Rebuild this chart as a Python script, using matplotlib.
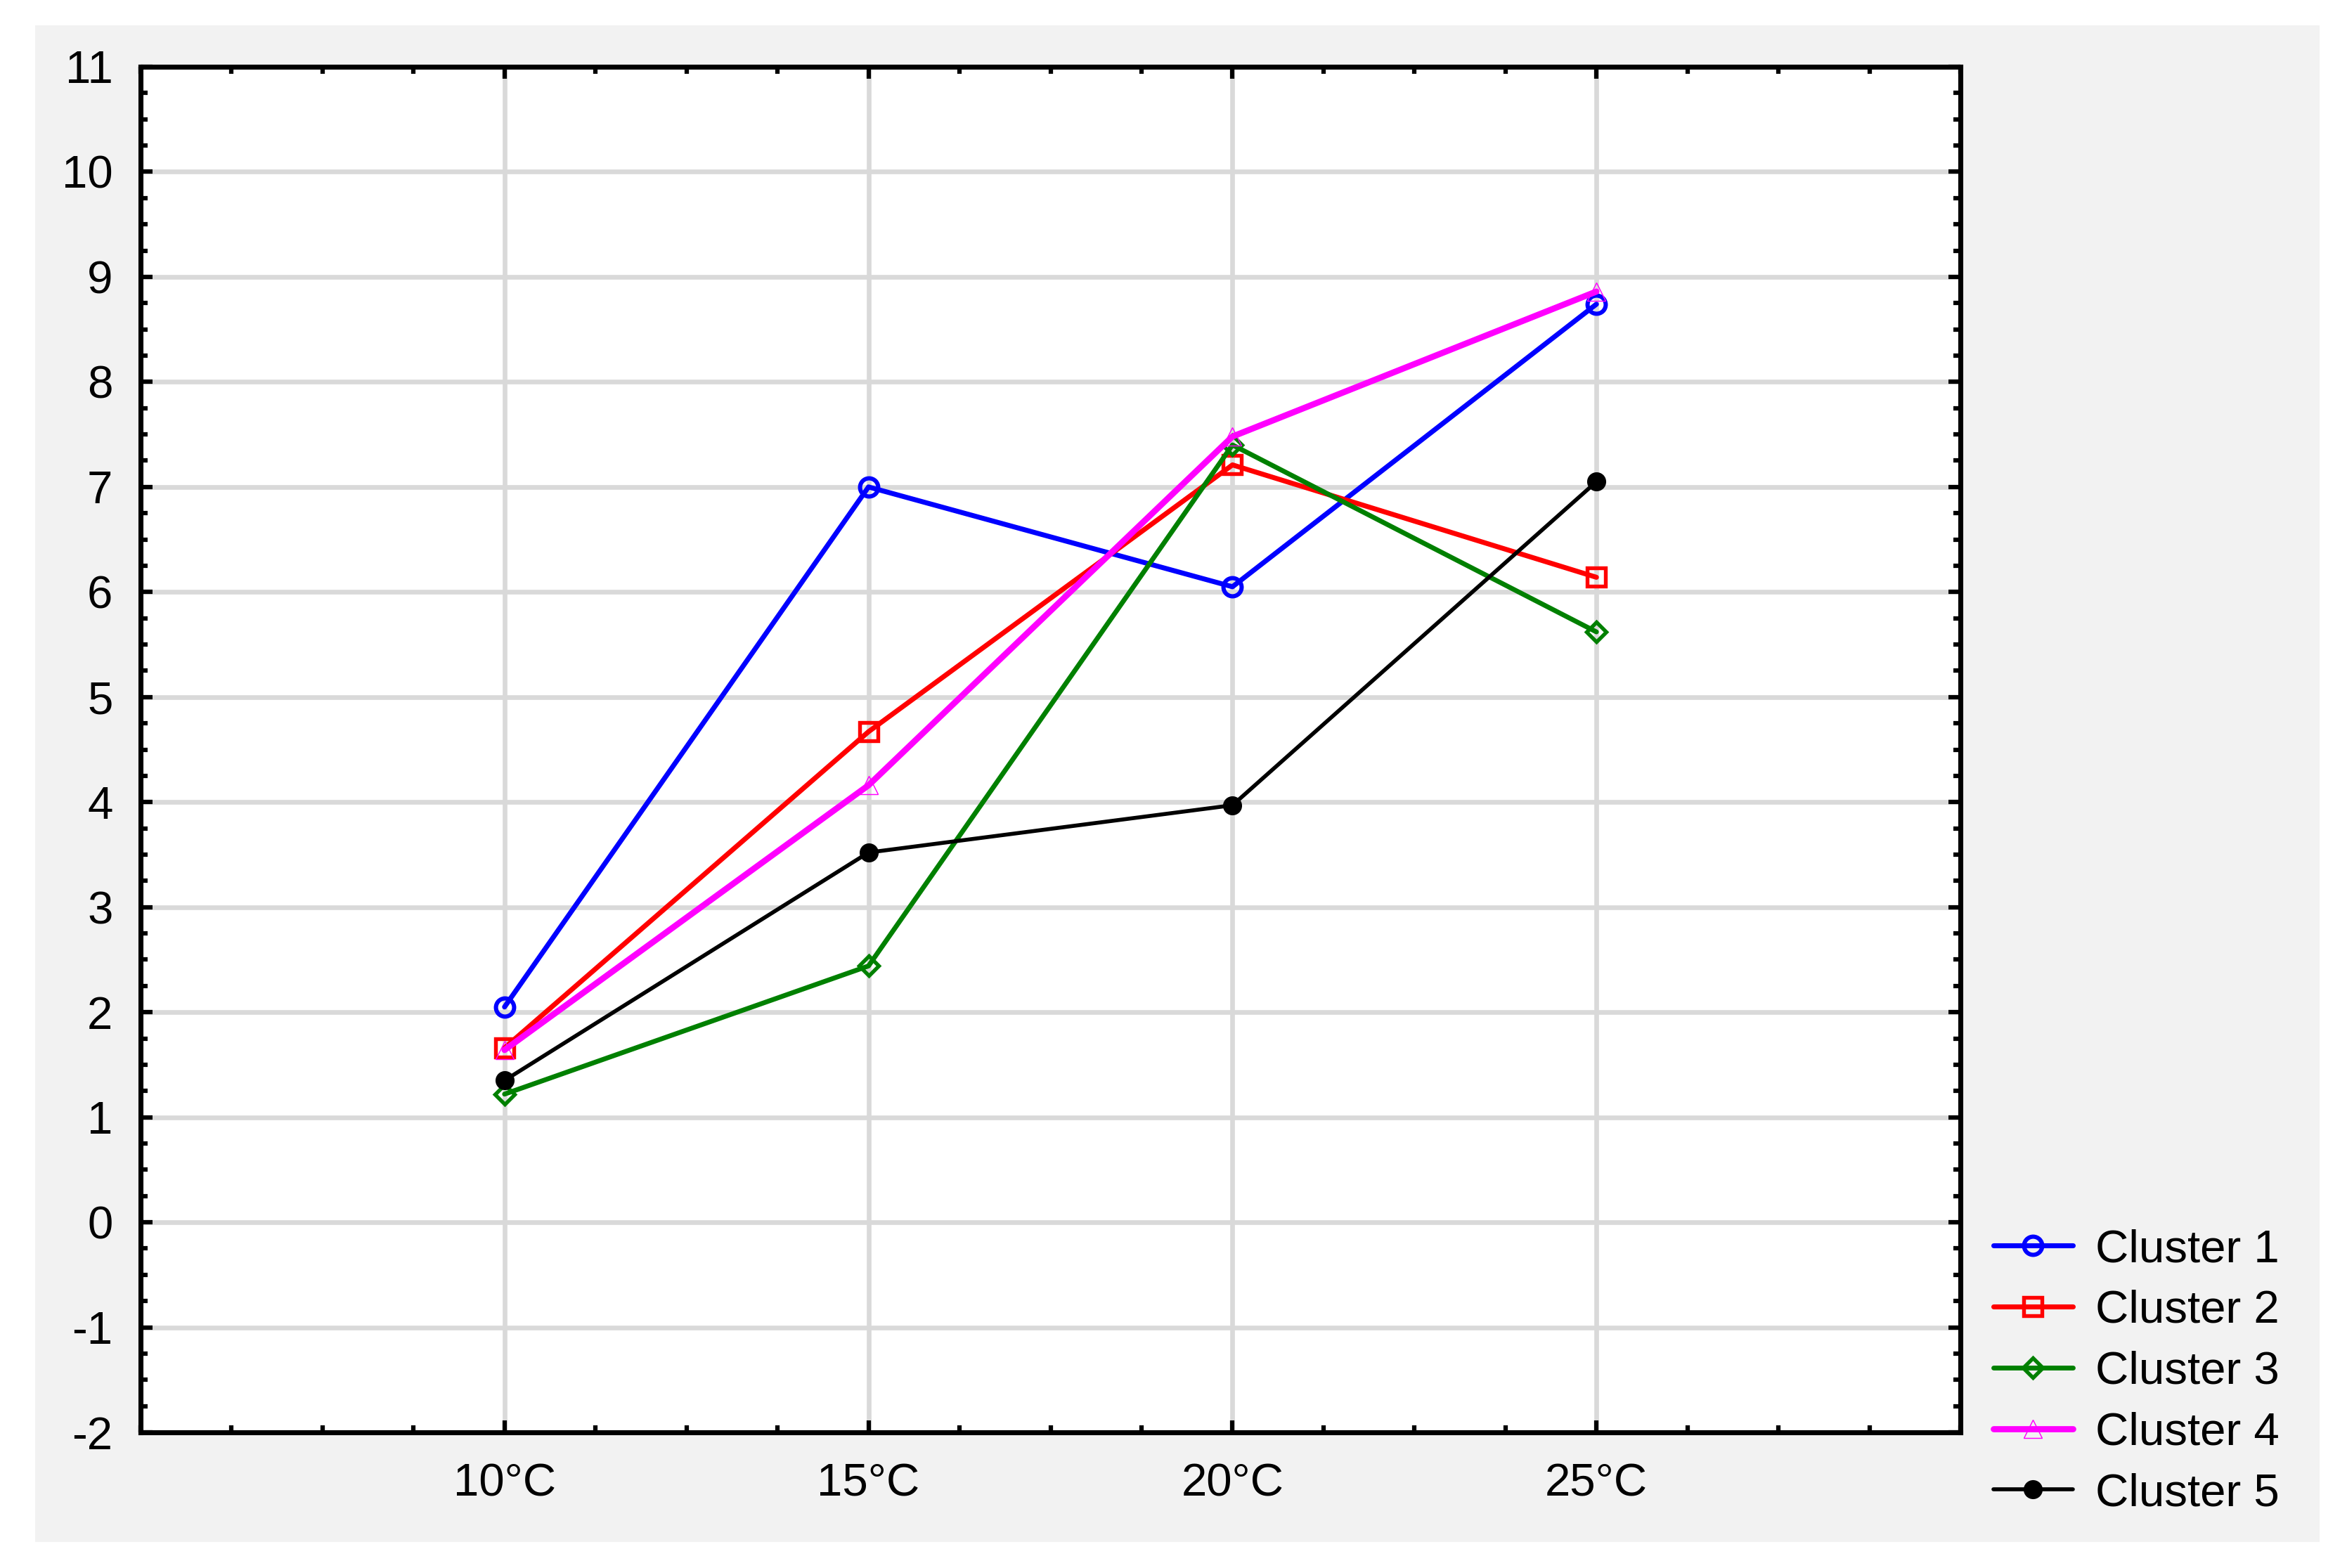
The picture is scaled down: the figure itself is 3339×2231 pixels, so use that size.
import matplotlib
matplotlib.use("Agg")
import matplotlib.pyplot as plt
from matplotlib.patches import Rectangle
from matplotlib.ticker import MultipleLocator, FixedLocator

plt.rcParams['font.family'] = ['Liberation Sans', 'DejaVu Sans']
plt.rcParams['axes.unicode_minus'] = False

categories = ["10°C", "15°C", "20°C", "25°C"]
cluster1 = [2.05, 7.00, 6.05, 8.74]
cluster2 = [1.66, 4.67, 7.21, 6.14]
cluster3 = [1.22, 2.44, 7.40, 5.62]
cluster4 = [1.64, 4.16, 7.48, 8.86]
cluster5 = [1.35, 3.52, 3.97, 7.05]
labels = ["Cluster 1", "Cluster 2", "Cluster 3", "Cluster 4", "Cluster 5"]

W, H = 3339, 2231
fig = plt.figure(figsize=(W / 300, H / 300), dpi=300)
fig.patch.set_facecolor("white")

# gray panel
fig.patches.append(Rectangle((50 / W, 1 - 2194 / H), (3300 - 50) / W, (2194 - 36) / H,
                             transform=fig.transFigure, facecolor="#f2f2f2",
                             edgecolor="none", zorder=-10))

ax = fig.add_axes([200 / W, 1 - 2038 / H, (2789 - 200) / W, (2038 - 95) / H])
ax.set_facecolor("white")

x = list(range(1, len(categories) + 1))
styles = [
    dict(color="#0000ff", lw=1.7, marker="o", ms=6.2, mfc="none", mec="#0000ff", mew=1.45),
    dict(color="#ff0000", lw=1.7, marker="s", ms=6.4, mfc="none", mec="#ff0000", mew=1.3),
    dict(color="#008000", lw=1.65, marker="D", ms=4.6, mfc="none", mec="#008000", mew=1.3),
    dict(color="#ff00ff", lw=2.1, marker="^", ms=6.4, mfc="none", mec="#ff00ff", mew=0.35),
    dict(color="#000000", lw=1.35, marker="o", ms=6.0, mfc="#000000", mec="#000000", mew=0.5),
]
for series, lab, st in zip([cluster1, cluster2, cluster3, cluster4, cluster5], labels, styles):
    ax.plot(x, series, label=lab, solid_capstyle="round", zorder=3, **st)

ax.set_xlim(0, 5)
ax.set_ylim(-2, 11)
ax.xaxis.set_major_locator(FixedLocator(x))
ax.set_xticklabels(categories)
ax.xaxis.set_minor_locator(MultipleLocator(0.25))
ax.yaxis.set_major_locator(MultipleLocator(1))
ax.yaxis.set_minor_locator(MultipleLocator(0.25))

ax.set_axisbelow(True)
ax.grid(True, which="major", color="#d9d9d9", lw=1.6)

for sp in ax.spines.values():
    sp.set_linewidth(1.7)
    sp.set_color("black")

ax.tick_params(which="both", direction="in", top=True, right=True, width=1.5, color="black")
ax.tick_params(which="major", length=4.0, labelsize=15.7)
ax.tick_params(which="minor", length=2.3)
ax.tick_params(axis="y", which="major", pad=9.5)
ax.tick_params(axis="x", which="major", pad=10.5)

leg = fig.legend(loc="upper left", bbox_to_anchor=(2836 / W, 1 - 1748 / H),
                 frameon=False, fontsize=15.7, handlelength=1.72, handletextpad=0.5,
                 labelspacing=0.41, borderpad=0, borderaxespad=0)

fig.savefig("out.png", dpi=300, facecolor=fig.get_facecolor())
